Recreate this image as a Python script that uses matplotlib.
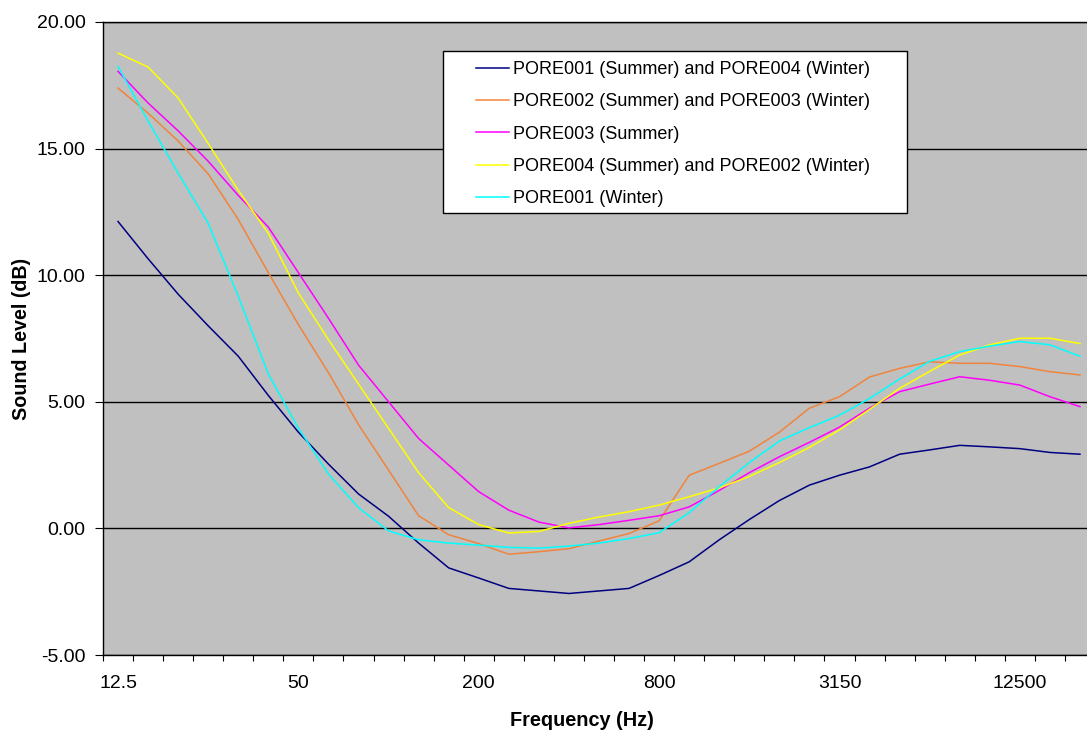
import matplotlib
matplotlib.use("Agg")
import matplotlib.pyplot as plt
from matplotlib.patches import Rectangle
from matplotlib.ticker import FuncFormatter

plt.rcParams['font.family'] = ['Liberation Sans', 'DejaVu Sans']

# 1/3 octave bands (Hz)
bands = ['12.5', '16', '20', '25', '31.5', '40', '50', '63', '80', '100',
         '125', '160', '200', '250', '315', '400', '500', '630', '800', '1000',
         '1250', '1600', '2000', '2500', '3150', '4000', '5000', '6300', '8000',
         '10000', '12500', '16000', '20000']

# sound levels (dB)
pore001_sum = [12.12, 10.65, 9.25, 8.0, 6.8, 5.25, 3.8, 2.54, 1.36, 0.48,
               -0.58, -1.56, -1.96, -2.37, -2.47, -2.57, -2.47, -2.37, -1.86, -1.32,
               -0.45, 0.35, 1.1, 1.71, 2.1, 2.43, 2.93, 3.1, 3.28, 3.22,
               3.15, 3.0, 2.93]
pore002_sum = [17.39, 16.4, 15.3, 14.0, 12.2, 10.1, 8.05, 6.15, 4.1, 2.3,
               0.5, -0.25, -0.6, -1.02, -0.92, -0.8, -0.5, -0.2, 0.3, 2.1,
               2.57, 3.05, 3.8, 4.75, 5.2, 5.98, 6.32, 6.58, 6.52, 6.52,
               6.39, 6.19, 6.06]
pore003_sum = [18.05, 16.8, 15.7, 14.5, 13.15, 11.9, 10.1, 8.3, 6.45, 5.0,
               3.55, 2.5, 1.45, 0.72, 0.25, 0.02, 0.15, 0.32, 0.5, 0.85,
               1.5, 2.2, 2.83, 3.4, 4.0, 4.75, 5.4, 5.7, 5.99, 5.85,
               5.66, 5.2, 4.81]
pore004_sum = [18.77, 18.22, 17.0, 15.2, 13.35, 11.65, 9.3, 7.45, 5.7, 3.95,
               2.2, 0.82, 0.15, -0.18, -0.12, 0.2, 0.45, 0.66, 0.92, 1.25,
               1.6, 2.05, 2.6, 3.2, 3.89, 4.7, 5.53, 6.2, 6.85, 7.25,
               7.51, 7.51, 7.3]
pore001_win = [18.24, 16.09, 14.03, 12.05, 9.17, 6.1, 3.96, 2.15, 0.82, -0.1,
               -0.45, -0.58, -0.66, -0.75, -0.78, -0.7, -0.58, -0.4, -0.17, 0.62,
               1.65, 2.6, 3.45, 3.98, 4.47, 5.13, 5.9, 6.6, 6.98, 7.2,
               7.38, 7.25, 6.8]

labels = ['PORE001 (Summer) and PORE004 (Winter)',
          'PORE002 (Summer) and PORE003 (Winter)',
          'PORE003 (Summer)',
          'PORE004 (Summer) and PORE002 (Winter)',
          'PORE001 (Winter)']
colors = ['#000080', '#F0843C', '#FF00FF', '#FFFF00', '#00FFFF']

fig = plt.figure(figsize=(10.87, 7.32), dpi=100)
ax = fig.add_axes([103 / 1087, 77 / 732, 992 / 1087, 633 / 732])

x = range(len(bands))
for vals, col, lab in zip([pore001_sum, pore002_sum, pore003_sum, pore004_sum, pore001_win],
                          colors, labels):
    ax.plot(x, vals, color=col, lw=1.1, label=lab)

ax.set_xlim(-0.5, len(bands) - 0.5)
ax.set_ylim(-5, 20)
ax.set_facecolor('#C0C0C0')

# tick marks between categories, labels every 6th band
ax.set_xticks([i - 0.5 for i in range(len(bands) + 1)])
ax.set_xticklabels([])
ax.tick_params(axis='x', which='major', direction='out', length=4, width=0.8)
ax.set_xticks(range(0, len(bands), 6), minor=True)
ax.set_xticklabels([bands[i] for i in range(0, len(bands), 6)], minor=True)
ax.tick_params(axis='x', which='minor', length=0, pad=14.5, labelsize=14)

ax.set_yticks(range(-5, 21, 5))
ax.yaxis.set_major_formatter(FuncFormatter(lambda v, p: f'{v:.2f}'))
ax.tick_params(axis='y', direction='out', length=6, width=0.8, pad=6.5, labelsize=14)
ax.grid(axis='y', color='black', lw=1)
ax.set_axisbelow(True)

for s in ['left', 'bottom', 'top']:
    ax.spines[s].set_color('black')
    ax.spines[s].set_linewidth(1)
ax.spines['right'].set_visible(False)

fig.text(22 / 1087, 1 - 339 / 732, 'Sound Level (dB)', rotation=90,
         ha='center', va='center', fontsize=14.2, fontweight='bold')
fig.text(582 / 1087, 1 - 720 / 732, 'Frequency (Hz)',
         ha='center', va='center', fontsize=14.3, fontweight='bold')

# legend box
box = Rectangle((443 / 1087, 1 - 213 / 732), 464 / 1087, 162 / 732,
                transform=fig.transFigure, facecolor='white', edgecolor='black',
                lw=1, zorder=4, clip_on=False)
ax.add_patch(box)
leg = ax.legend(loc='upper left', bbox_to_anchor=(467 / 1087, 1 - 52 / 732),
                bbox_transform=fig.transFigure, frameon=False, borderpad=0,
                handlelength=1.8, handletextpad=0.25, labelspacing=0.85, fontsize=13)
leg.set_zorder(5)

fig.savefig('out.png', dpi=100)
